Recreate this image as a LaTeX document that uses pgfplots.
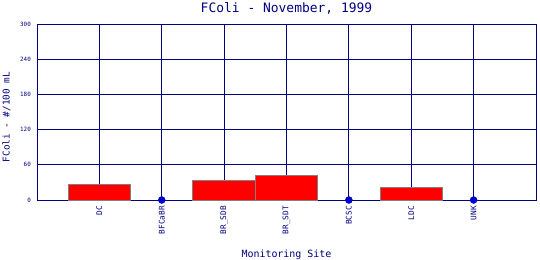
\documentclass[border=0pt]{standalone}
\usepackage{fontspec}
\setmainfont{DejaVu Sans Mono}
\usepackage{pgfplots}
\pgfplotsset{compat=1.18}
\definecolor{navyc}{RGB}{0,0,128}
\definecolor{dotblue}{RGB}{0,0,205}
\definecolor{bargrey}{RGB}{128,128,128}
\begin{document}
\begin{tikzpicture}
\useasboundingbox (-37bp,-60bp) rectangle (503bp,200bp);
\begin{axis}[
  at={(0,0)}, anchor=south west, scale only axis,
  width=499bp, height=176bp,
  xmin=-1, xmax=7, ymin=0, ymax=300,
  xtick={0,...,6},
  xticklabels={DC,BFCaBR,BR\_SDB,BR\_SDT,BCSC,LDC,UNK},
  ytick={0,60,...,300},
  major tick length=0pt,
  grid=major,
  major grid style={navyc, line width=0.9bp},
  axis line style={navyc, line width=0.9bp},
  clip=false,
  /pgf/number format/assume math mode=true,
  yticklabel style={font=\fontsize{5.9}{6}\selectfont, text=navyc, anchor=east, inner sep=0pt, xshift=-6bp},
  xticklabel style={font=\fontsize{7.8}{8}\selectfont, text=navyc, rotate=90, anchor=east, inner sep=0pt, xshift=-6bp},
  title={FColi - November, 1999},
  title style={font=\fontsize{13}{14}\selectfont, text=navyc, at={(axis description cs:0.5,1)}, anchor=base, yshift=5.3bp, inner sep=0pt},
  xlabel={Monitoring Site},
  xlabel style={font=\fontsize{10}{11}\selectfont, text=navyc, at={(axis description cs:0.5,0)}, anchor=base, yshift=-57bp, inner sep=0pt},
  ylabel={FColi - \#/100 mL},
  ylabel style={font=\fontsize{9.4}{10}\selectfont, text=navyc, at={(axis description cs:0,0.5)}, anchor=center, yshift=30.5bp, xshift=-5bp, inner sep=0pt},
]
\addplot[ybar, bar width=1, fill=red, draw=bargrey, line width=0.9bp] coordinates {(0,26) (2,34) (3,42) (5,22)};
\addplot[only marks, mark=*, mark size=3.5bp, color=dotblue] coordinates {(1,0) (4,0) (6,0)};
\end{axis}
\end{tikzpicture}
\end{document}
